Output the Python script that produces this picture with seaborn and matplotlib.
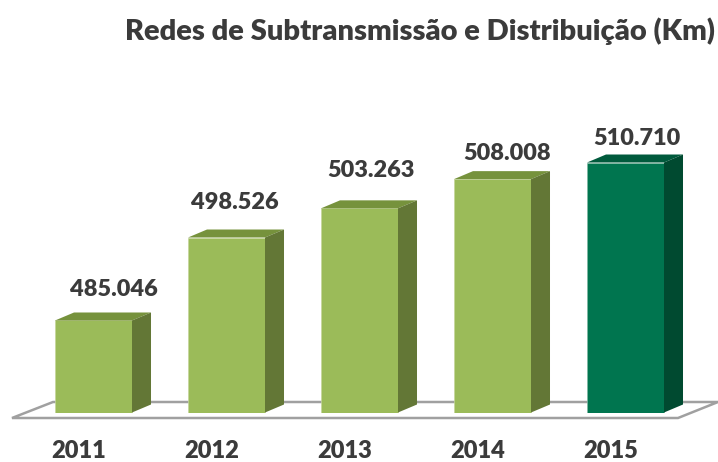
import matplotlib
matplotlib.use("Agg")
import matplotlib.pyplot as plt
import matplotlib.transforms as mtrans
from matplotlib.patches import Polygon
import pandas as pd
import seaborn as sns

# Chart data
years = ["2011", "2012", "2013", "2014", "2015"]
values = [485046, 498526, 503263, 508008, 510710]
value_labels = ["485.046", "498.526", "503.263", "508.008", "510.710"]
title = "Redes de Subtransmissão e Distribuição (Km)"

# Bar colours: front, top, side
light_colors = ("#9BBB59", "#76923C", "#637736")
dark_colors = ("#00754F", "#005A3C", "#004A30")

# Label shifts in pixels, the original labels are not centred on the bars
label_shift_x = [20, 8, 11, 15, 11]
label_shift_y = [31, 35, 38, 26, 24]

W, H = 718, 462
TEXT_COLOR = "#3B3B3B"

sns.set_theme(style="white")
plt.rcParams["font.family"] = ["Lato", "DejaVu Sans"]

df = pd.DataFrame({"year": years, "value": values})

fig = plt.figure(figsize=(W / 100, H / 100), dpi=100)
ax = fig.add_axes([27 / W, (H - 412.5) / H, 665 / W, 312 / H])
ax.patch.set_alpha(0)


def px(x, y):
    return (x / W, (H - y) / H)


# Floor of the 3D box, drawn behind the bars
floor = [(12, 418), (678, 418), (718, 402), (53, 402)]
fig.add_artist(Polygon([px(*p) for p in floor], closed=True, fill=False,
                       edgecolor="#A0A0A0", linewidth=1.8,
                       transform=fig.transFigure, zorder=0))

sns.barplot(data=df, x="year", y="value", width=0.579, ax=ax,
            palette=[light_colors[0]] * 4 + [dark_colors[0]],
            hue="year", legend=False, saturation=1)

ax.set_xlim(-0.5, 4.5)
ax.set_ylim(470100, 520782)
ax.set_xlabel("")
ax.set_ylabel("")
ax.set_yticks([])
sns.despine(ax=ax, left=True, bottom=True)

# Depth of the fake 3D, in data units
unit_x = 1 / 133
unit_y = (520782 - 470100) / 312
dx = 19 * unit_x
dy = 8 * unit_y

for i, bar in enumerate(list(ax.patches)):
    x0 = bar.get_x()
    x1 = x0 + bar.get_width()
    top = bar.get_height()
    colors = dark_colors if i == 4 else light_colors
    bar.set_edgecolor("#C5D69B" if i < 4 else "#7FB8A2")
    bar.set_linewidth(0.5)
    ax.add_patch(Polygon([(x0, top), (x1, top), (x1 + dx, top + dy), (x0 + dx, top + dy)],
                         closed=True, facecolor=colors[1], edgecolor="none", clip_on=False))
    ax.add_patch(Polygon([(x1, 470100), (x1 + dx, 470100 + dy), (x1 + dx, top + dy), (x1, top)],
                         closed=True, facecolor=colors[2], edgecolor="none", clip_on=False))
    ax.annotate(value_labels[i], xy=(i, top),
                xytext=(label_shift_x[i] * 0.72, label_shift_y[i] * 0.72),
                textcoords="offset points", ha="center", va="center",
                fontsize=16.9, fontweight="heavy", color=TEXT_COLOR)

# Year labels sit left of the bar centres
ax.set_xticks(range(len(years)))
ax.set_xticklabels(years, fontsize=17, fontweight="heavy", color=TEXT_COLOR)
ax.tick_params(axis="x", length=0, pad=19.5)
shift = mtrans.ScaledTranslation(-14.5 / 100, 0, fig.dpi_scale_trans)
for lab in ax.get_xticklabels():
    lab.set_transform(lab.get_transform() + shift)

fig.text(*px(420, 31), title, ha="center", va="center",
         fontsize=21, fontweight="heavy", color=TEXT_COLOR)

fig.savefig("out.png", dpi=100)
